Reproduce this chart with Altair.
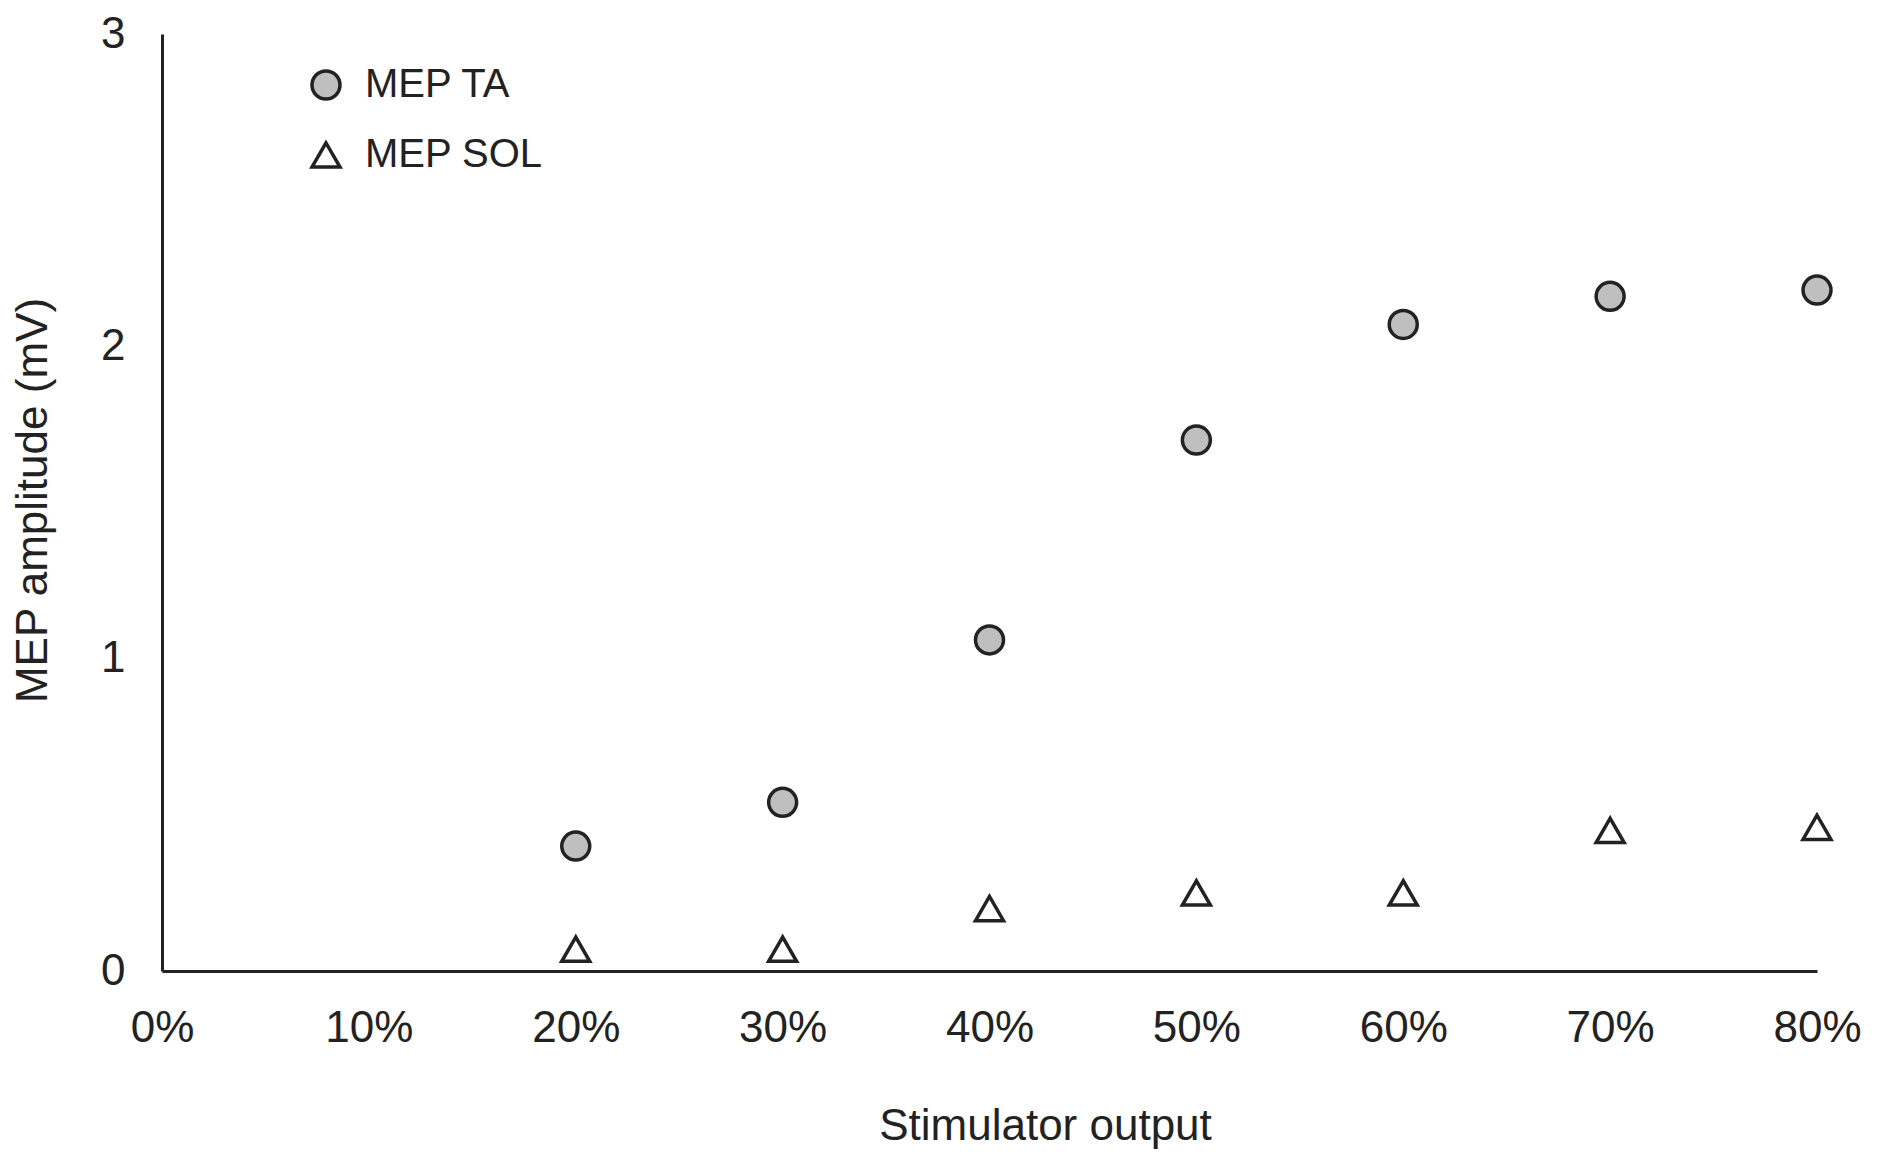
import altair as alt
import pandas as pd

outputs = [0.2, 0.3, 0.4, 0.5, 0.6, 0.7, 0.8]
mep_ta = [0.40, 0.54, 1.06, 1.70, 2.07, 2.16, 2.18]
mep_sol = [0.07, 0.07, 0.20, 0.25, 0.25, 0.45, 0.46]
series_names = ["MEP TA", "MEP SOL"]
x_ticks = [0, 0.1, 0.2, 0.3, 0.4, 0.5, 0.6, 0.7, 0.8]
y_ticks = [0, 1, 2, 3]

rows = []
for x, v in zip(outputs, mep_ta):
    rows.append({"output": x, "amp": v, "series": series_names[0]})
for x, v in zip(outputs, mep_sol):
    rows.append({"output": x, "amp": v, "series": series_names[1]})
df = pd.DataFrame(rows)

FONT = "Liberation Sans"
TXT = "#222222"


def make_legend():
    return alt.Legend(title=None, orient="none", legendX=144, legendY=31,
                      labelFontSize=40, symbolSize=784, labelLimit=0,
                      symbolStrokeWidth=3.5, symbolStrokeColor="#222222",
                      labelOffset=19, rowPadding=29, padding=0,
                      labelFont=FONT, labelColor=TXT)


chart = alt.Chart(df).mark_point(
    filled=True, strokeWidth=3.5, size=784, opacity=1
).encode(
    x=alt.X("output:Q",
            scale=alt.Scale(domain=[0, 0.8], nice=False, zero=False),
            axis=alt.Axis(values=x_ticks, format=".0%", title="Stimulator output",
                          grid=False, ticks=False, labelPadding=35,
                          labelFontSize=44, titleFontSize=44,
                          titleFontWeight="normal", titleX=883, titleY=168,
                          titleAlign="center", titleBaseline="alphabetic",
                          labelFlush=False)),
    y=alt.Y("amp:Q",
            scale=alt.Scale(domain=[0, 3], nice=False),
            axis=alt.Axis(values=y_ticks, format="d", title="MEP amplitude (mV)",
                          grid=False, ticks=False, labelPadding=37,
                          labelFontSize=44, titleFontSize=44,
                          titleFontWeight="normal", titleX=-129, titleY=466,
                          titleAngle=270, titleAlign="center", titleBaseline="middle",
                          labelFlush=False)),
    shape=alt.Shape("series:N",
                    scale=alt.Scale(domain=series_names, range=["circle", "triangle-up"]),
                    legend=make_legend()),
    fill=alt.Fill("series:N",
                  scale=alt.Scale(domain=series_names, range=["#bfbfbf", "#ffffff"]),
                  legend=make_legend()),
    stroke=alt.Stroke("series:N",
                      scale=alt.Scale(domain=series_names, range=["#222222", "#222222"]),
                      legend=make_legend()),
).properties(
    width=1655, height=937,
    autosize=alt.AutoSizeParams(type="none"),
    padding={"left": 154, "top": 26, "right": 50, "bottom": 182},
).configure_axis(
    domainColor="#222222", domainWidth=3, labelFont=FONT, titleFont=FONT,
    labelColor=TXT, titleColor=TXT,
).configure_view(stroke=None)

chart.save("out.html", embed_options={"renderer": "svg", "actions": False})
